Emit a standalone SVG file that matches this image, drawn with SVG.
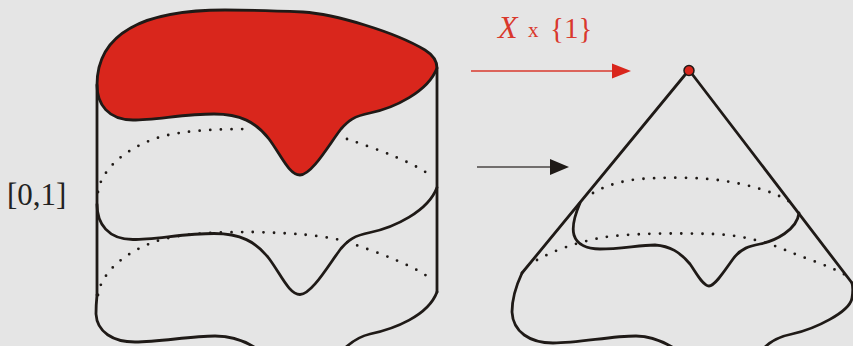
<svg xmlns="http://www.w3.org/2000/svg" width="853" height="346" viewBox="0 0 853 346">
<style>
.l{fill:none;stroke:#1f1a17;stroke-width:2.8;stroke-linecap:round;stroke-linejoin:round}
.f{fill:#d9261c;stroke:#1f1a17;stroke-width:2.8;stroke-linejoin:round}
.d{fill:none;stroke:#1f1a17;stroke-width:2.8;stroke-linecap:round;stroke-dasharray:0 10.6}
.t{font-family:"Liberation Serif",serif}
</style>
<defs>
<path id="wave" d="M437,68 C428,92 394,108 370,113 C354,116 348,121 341,129 C330,143 312,175 300,175 C289,175 281,155 269,139 C256,122 240,114 214,114 C185,114 155,120 133,120 C108,120 97,104 97,85"/>
</defs>
<rect width="853" height="346" fill="#e5e5e5"/>
<g id="connectors">
<path d="M471,71H613" fill="none" stroke="#d9382c" stroke-width="1.3"/>
<path d="M612,63.500L631,71L612,78.500Z" fill="#d9261c"/>
<path d="M477,167H551" fill="none" stroke="#4a4644" stroke-width="1.3"/>
<path d="M550,159L569,167L550,175Z" fill="#1f1a17"/>
</g>
<g id="cylinder">
<path class="f" d="M437,68 C428,92 394,108 370,113 C354,116 348,121 341,129 C330,143 312,175 300,175 C289,175 281,155 269,139 C256,122 240,114 214,114 C185,114 155,120 133,120 C108,120 97,104 97,85 C97,32 145,10 225,10 C250,10 280,11 303,12 C335,14 395,32 425,50 C433,55 437,62 437,68Z"/>
<path class="l" d="M97,85V295"/>
<path class="l" d="M437,68V292"/>
<use href="#wave" class="l" transform="translate(0,119.500)"/>
<path class="l" d="M437,292 C428,316 394,329 370,334 C361,336 354,340 346,347"/>
<path class="l" d="M97,295 C96,305 96,308 96,314 C97,332 113,342 135,342 C160,342 190,336 215,336 C232,336 243,340 254,347"/>
<path class="d" d="M98,192 C101,170 125,148 160,137 C185,130 220,129 252,129"/>
<path class="d" d="M347,139 C380,150 420,165 433,178"/>
<path class="d" d="M98,295 C101,273 125,251 160,240 C185,233 220,232 252,232 C290,233 325,235 347,242 C380,253 420,268 433,281"/>
</g>
<g id="cone">
<path class="l" d="M689,70L522,273"/>
<path class="l" d="M689,70L852,283"/>
<path class="l" d="M522,273 C515,288 512,300 512,312 C513,332 530,343 553,343 C580,343 610,336 636,336 C650,336 662,341 672,347"/>
<path class="l" d="M765,347 C772,340 782,336 792,334 C815,329 850,312 852,298 C853,292 853,287 852,283"/>
<path class="l" d="M580,203 C574,217 572,228 574,235 C577,245 588,249 600,249 C620,249 640,245 655,245 C670,246 680,252 690,264 C697,274 703,286 709,286 C715,286 725,270 733,259 C741,248 750,246 760,244 C775,241 797,230 799,213"/>
<path class="d" d="M593,193 C605,186 620,181 640,179 C665,177 700,177 725,181 C750,185 775,192 790,202"/>
<path class="d" d="M537,260 C555,250 575,243 600,238 C625,233 680,233 713,234 C740,235 765,241 790,252 C810,260 835,268 847,276"/>
</g>
<g id="apex"><circle cx="689" cy="70.500" r="5" fill="#d9261c" stroke="#1f1a17" stroke-width="1.5"/></g>
<g id="labels">
<text class="t" x="498" y="38" font-size="32" font-style="italic" fill="#d9382c">X</text>
<text class="t" x="528" y="37" font-size="21" fill="#d9382c">x</text>
<text class="t" x="550" y="38" font-size="29" fill="#d9382c">{1}</text>
<text class="t" x="7" y="205" font-size="31" fill="#222">[0,1]</text>
</g>
</svg>
